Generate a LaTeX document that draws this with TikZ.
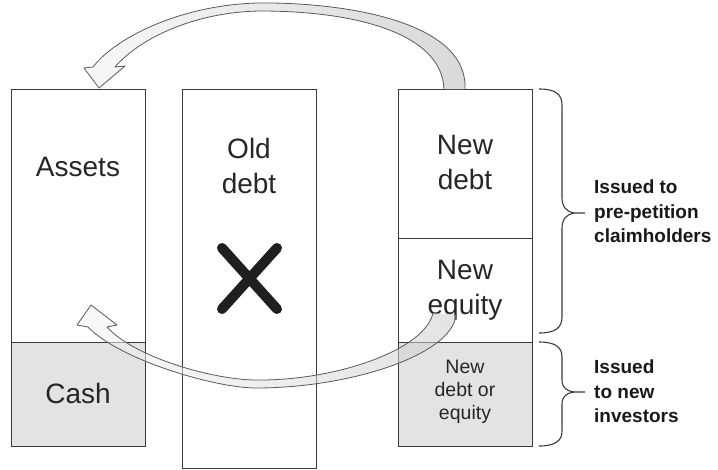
\documentclass[tikz,border=0pt]{standalone}
\usepackage{fontspec}
\setmainfont{Liberation Sans}
\definecolor{linec}{HTML}{3A3A3A}
\definecolor{cashgray}{HTML}{E2E3E5}
\definecolor{arrowline}{HTML}{5A5A5A}
\tikzset{
  box/.style={draw=linec, line width=1.3pt, inner sep=0pt, anchor=north west},
  big/.style={font=\fontsize{28}{35}\selectfont, inner sep=0pt, align=center, text=black!85},
  small/.style={font=\fontsize{19.5}{23}\selectfont, inner sep=0pt, align=center, text=black!85},
  lab/.style={font=\bfseries\fontsize{19}{24.5}\selectfont, inner sep=0pt, align=left, anchor=north west, text=black!90},
  bracec/.style={draw=linec, line width=1.1pt},
  arrowedge/.style={draw=arrowline, line width=0.8pt, line join=round},
}
\begin{document}
\begin{tikzpicture}[x=1pt,y=-1pt]
\useasboundingbox (0,0) rectangle (718,469);
% boxes
\node[box, minimum width=134pt, minimum height=357pt] (left) at (11,89) {};
\node[box, fill=cashgray, minimum width=134pt, minimum height=104pt] (cash) at (11,342) {};
\node[box, minimum width=134pt, minimum height=379pt] (mid) at (182,89) {};
\node[box, minimum width=134pt, minimum height=149pt] (newdebt) at (398,89) {};
\node[box, minimum width=134pt, minimum height=104pt] (newequity) at (398,238) {};
\node[box, fill=cashgray, minimum width=134pt, minimum height=104pt] (newinv) at (398,342) {};
% texts
\node[big, anchor=base] (assetsT) at (78,176) {Assets};
\node[big, anchor=base] (cashT) at (78,403) {Cash};
\node[big, anchor=north] (oldT) at (249,138) {Old\\debt};
\node[big, anchor=north] (newdebtT) at (465,135) {New\\debt};
\node[big, anchor=north] (newequityT) at (465,260) {New\\equity};
\node[small, anchor=north] (newinvT) at (465,360) {New\\debt or\\equity};
\node[lab] (preT) at (594,180) {Issued to\\pre-petition\\claimholders};
\node[lab] (invT) at (594,360) {Issued\\to new\\investors};
% cross
\draw[line width=10pt, line cap=round, black!88] (222,248) -- (277,309) (277,248) -- (222,309);
% braces
\draw[bracec] (539,89) .. controls (555,89) and (562,94) .. (562,105) -- (562,198)
  .. controls (562,207) and (567,212) .. (574,213) -- (585,213);
\draw[bracec] (539,333) .. controls (555,333) and (562,328) .. (562,317) -- (562,228)
  .. controls (562,219) and (567,214) .. (574,213);
\draw[bracec] (539,342) .. controls (555,342) and (562,347) .. (562,357) -- (562,380)
  .. controls (562,388) and (567,391) .. (574,392) -- (585,392);
\draw[bracec] (539,446) .. controls (555,446) and (562,441) .. (562,431) -- (562,404)
  .. controls (562,396) and (567,393) .. (574,392);
% upper arrow
\shade[left color=gray!6, right color=gray!30]
  (465,89) .. controls (468,20) and (340,2) .. (258,3)
  .. controls (180,5) and (115,38) .. (93,67)
  -- (84,68) -- (99,88) -- (125,66) -- (115,67)
  .. controls (140,38) and (195,12) .. (260,11)
  .. controls (360,11) and (442,35) .. (444,89) -- cycle;
\draw[arrowedge]
  (465,89) .. controls (468,20) and (340,2) .. (258,3)
  .. controls (180,5) and (115,38) .. (93,67)
  -- (84,68) -- (99,88) -- (125,66) -- (115,67)
  .. controls (140,38) and (195,12) .. (260,11)
  .. controls (360,11) and (442,35) .. (444,89);
% lower arrow (semi-transparent)
\shade[left color=gray!8, right color=gray!40, fill opacity=0.55]
  (456,315) .. controls (452,355) and (350,388) .. (256,388)
  .. controls (215,388) and (120,360) .. (88,327)
  -- (77,325) -- (91,305) -- (117,325) -- (107,327)
  .. controls (135,358) and (215,380) .. (256,380)
  .. controls (335,381) and (425,350) .. (433,313) -- cycle;
\draw[arrowedge]
  (456,315) .. controls (452,355) and (350,388) .. (256,388)
  .. controls (215,388) and (120,360) .. (88,327)
  -- (77,325) -- (91,305) -- (117,325) -- (107,327)
  .. controls (135,358) and (215,380) .. (256,380)
  .. controls (335,381) and (425,350) .. (433,313);
\end{tikzpicture}
\end{document}
